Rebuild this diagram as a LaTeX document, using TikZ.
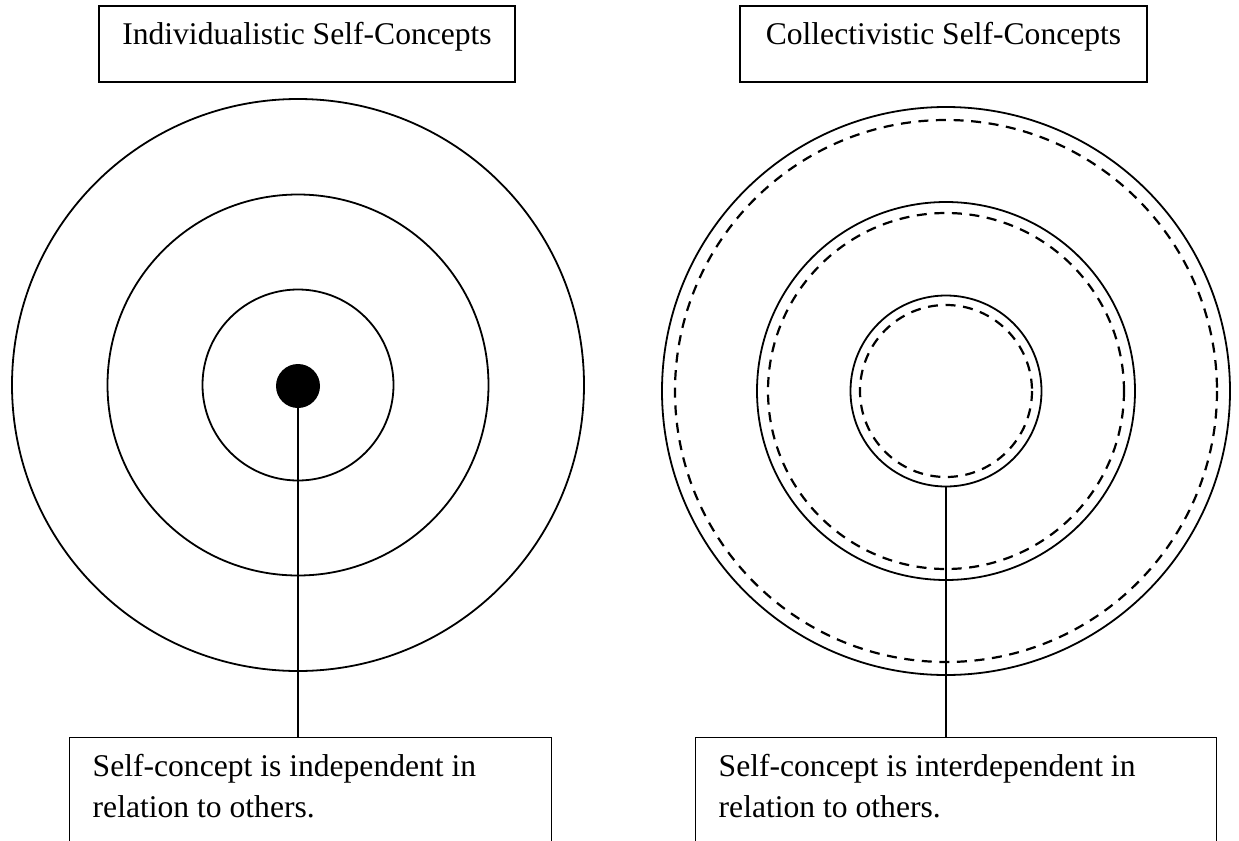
\documentclass[tikz,border=0pt]{standalone}
\usepackage{fontspec}
\setmainfont{Liberation Serif}
\usetikzlibrary{positioning}

\begin{document}
\begin{tikzpicture}[x=0.5pt, y=-0.5pt,
      every node/.style={font=\fontsize{15.8}{20.5}\selectfont},
      ring/.style={line width=0.9pt},
      broken ring/.style={line width=1.1pt, dash pattern=on 5pt off 3.8pt},
      title box/.style={draw, line width=0.8pt, anchor=base, inner sep=0pt,
          text height=19pt, text depth=19pt},
      note box/.style={draw, line width=0.7pt, anchor=north west,
          inner xsep=11.5pt, inner ysep=0pt, align=flush left},
      link/.style={line width=0.6pt}]
    \useasboundingbox (0,0) rectangle (1239,841);
    \clip (0,0) rectangle (1239,841);
    \node[title box, minimum width=208pt] (indtitle) at (307,44)
      {Individualistic Self-Concepts};
    \node[title box, minimum width=203.5pt] (coltitle) at (943.5,44)
      {Collectivistic Self-Concepts};
    % individualistic rings
    \foreach \r in {286,190.5,95.5}
      \draw[ring] (298,385) circle (\r);
    \node[circle, fill, minimum size=22pt, inner sep=0pt] (dot) at (298,386) {};
    % collectivistic rings
    \foreach \r in {284,189}
      \draw[ring] (946,391) circle (\r);
    \node[circle, draw, ring, minimum size=95.5pt, inner sep=0pt] (inner) at (946,391) {};
    \foreach \r in {271,178,86}
      \draw[broken ring] (946,391) circle (\r);
    \node[note box, text width=218pt] (indep) at (69,737)
      {\rule{0pt}{19.5pt}Self-concept is independent in\\
       relation to others.\rule[-40pt]{0pt}{40pt}};
    \node[note box, text width=237.5pt] (inter) at (695,737)
      {\rule{0pt}{19.5pt}Self-concept is interdependent in\\
       relation to others.\rule[-40pt]{0pt}{40pt}};
    \draw[link] (dot.south) -- (dot.south |- indep.north);
    \draw[link] (inner.south) -- (inner.south |- inter.north);
  \end{tikzpicture}
\end{document}
